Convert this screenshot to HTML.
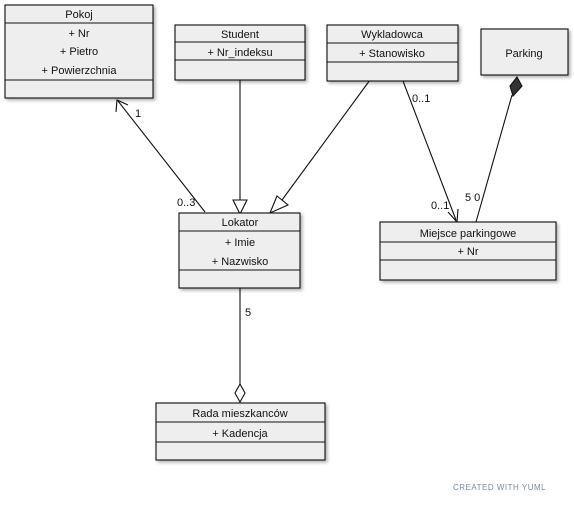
<!DOCTYPE html>
<html><head><style>
html,body{margin:0;padding:0;background:#fff;}
svg text{font-family:"Liberation Sans",sans-serif;font-size:11px;fill:#111;}
</style></head><body>
<svg width="574" height="503" viewBox="0 0 574 503" xmlns="http://www.w3.org/2000/svg">
<defs>
<filter id="sh"><feDropShadow dx="2" dy="2" stdDeviation="1.5" flood-color="#000" flood-opacity="0.3"/></filter>
</defs>
<g stroke="#111" stroke-width="1.1" fill="none">
<line x1="205" y1="212" x2="118" y2="101"/>
<polyline points="116,112 117,100 128,105"/>
<line x1="240" y1="80" x2="240" y2="200"/>
<polygon points="233,200 247,200 240,214" fill="#fff"/>
<line x1="370" y1="80" x2="282" y2="200"/>
<polygon points="277,196 288,205 270,213" fill="#fff"/>
<line x1="403" y1="81" x2="456" y2="220"/>
<polyline points="448,212 457,222 458,209"/>
<line x1="512" y1="95" x2="476" y2="222"/>
<polygon points="517,77 522,86 513,96 510,86" fill="#333"/>
<line x1="240" y1="288" x2="240" y2="385"/>
<polygon points="240,384 245,393 240,402 235,393" fill="#fff"/>
</g>
<g stroke="#111" stroke-width="1.1" fill="#eee" filter="url(#sh)">
<rect x="5" y="5" width="148" height="93"/>
<rect x="175" y="25" width="130" height="55"/>
<rect x="327" y="25" width="131" height="56"/>
<rect x="481" y="29" width="87" height="46"/>
<rect x="179" y="213" width="121" height="75"/>
<rect x="380" y="222" width="176" height="58"/>
<rect x="156" y="403" width="169" height="57"/>
</g>
<g stroke="#111" stroke-width="1">
<line x1="5" y1="23" x2="153" y2="23"/><line x1="5" y1="80" x2="153" y2="80"/>
<line x1="175" y1="42" x2="305" y2="42"/><line x1="175" y1="60" x2="305" y2="60"/>
<line x1="327" y1="43" x2="458" y2="43"/><line x1="327" y1="62" x2="458" y2="62"/>
<line x1="179" y1="231" x2="300" y2="231"/><line x1="179" y1="270" x2="300" y2="270"/>
<line x1="380" y1="242" x2="556" y2="242"/><line x1="380" y1="260" x2="556" y2="260"/>
<line x1="156" y1="422" x2="325" y2="422"/><line x1="156" y1="442" x2="325" y2="442"/>
</g>
<g text-anchor="middle">
<text x="79" y="18">Pokoj</text>
<text x="79" y="37">+ Nr</text><text x="79" y="55">+ Pietro</text><text x="79" y="74">+ Powierzchnia</text>
<text x="240" y="38">Student</text><text x="240" y="56">+ Nr_indeksu</text>
<text x="392" y="38">Wykladowca</text><text x="392" y="57">+ Stanowisko</text>
<text x="524" y="57">Parking</text>
<text x="240" y="226">Lokator</text><text x="240" y="246">+ Imie</text><text x="240" y="265">+ Nazwisko</text>
<text x="468" y="237">Miejsce parkingowe</text><text x="468" y="255">+ Nr</text>
<text x="240" y="417">Rada mieszkanców</text><text x="240" y="437">+ Kadencja</text>
</g>
<g style="font-size:10px">
<text x="135" y="117">1</text>
<text x="177" y="206">0..3</text>
<text x="412" y="102">0..1</text>
<text x="431" y="209">0..1</text>
<text x="465" y="201">5 0</text>
<text x="245" y="316">5</text>
</g>
<text x="453" y="490" style="font-size:8px;fill:#7a8aa0;letter-spacing:0.5px">CREATED WITH YUML</text>
</svg>
</body></html>
